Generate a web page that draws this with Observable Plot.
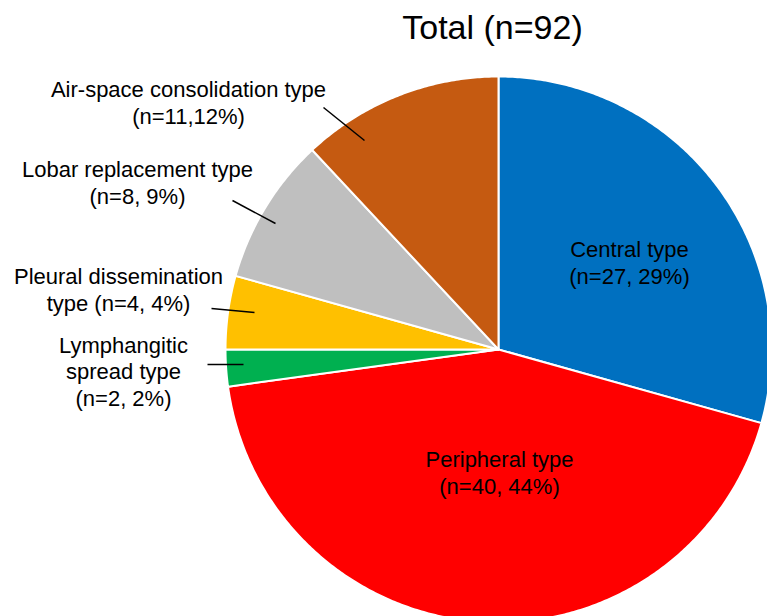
<!DOCTYPE html>
<html><head><meta charset="utf-8">
<script src="https://cdn.jsdelivr.net/npm/d3@7"></script>
<script src="https://cdn.jsdelivr.net/npm/@observablehq/plot@0.6"></script>
<style>html,body{margin:0;padding:0;background:#fff;overflow:hidden} svg{display:block}</style>
</head><body><div id="chart"></div>
<script>
// ---- data ----
const categories = ["Central type","Peripheral type","Lymphangitic spread type","Pleural dissemination type","Lobar replacement type","Air-space consolidation type"];
const counts = [27, 40, 2, 4, 8, 11];
const colors = ["#0070C0","#FF0000","#00B050","#FFC000","#BFBFBF","#C55A11"];
const labelLines = [
  ["Central type","(n=27, 29%)"],
  ["Peripheral type","(n=40, 44%)"],
  ["Lymphangitic","spread type","(n=2, 2%)"],
  ["Pleural dissemination","type (n=4, 4%)"],
  ["Lobar replacement type","(n=8, 9%)"],
  ["Air-space consolidation type","(n=11,12%)"]
];
const title = "Total (n=92)";

// ---- layout ----
const W = 767, H = 616, CX = 498, CY = 349, R = 273;
const labelPos = [[629,283],[499,493],[123,405],[118,310],[137,203],[188,123]];
const leaderPos = [null, null, [207,364,243,364], [211,308,254,312], [232,200,275,223], [323,107,364,140]];

const arcs = d3.pie().sort(null)(counts);
const pts = [];
arcs.forEach((a, i) => {
  const n = Math.max(2, Math.ceil((a.endAngle - a.startAngle) * 180 / Math.PI * 2));
  pts.push({cat: categories[i], x: CX, y: CY});
  for (let k = 0; k <= n; k++) {
    const t = a.startAngle + (a.endAngle - a.startAngle) * k / n;
    pts.push({cat: categories[i], x: CX + R * Math.sin(t), y: CY - R * Math.cos(t)});
  }
  pts.push({cat: categories[i], x: CX, y: CY});
});
const labels = labelLines.map((l, i) => ({text: l.join("\n"), x: labelPos[i][0], y: labelPos[i][1]}));
const leaders = leaderPos.map((p, i) => p && {cat: categories[i], x1: p[0], y1: p[1], x2: p[2], y2: p[3]}).filter(Boolean);

const chart = Plot.plot({
  width: W, height: H, margin: 0,
  x: {domain: [0, W], range: [0, W], axis: null},
  y: {domain: [0, H], range: [0, H], axis: null},
  color: {domain: categories, range: colors},
  style: {fontFamily: "'Liberation Sans', Arial, sans-serif", background: "white", overflow: "hidden"},
  marks: [
    Plot.line(pts, {x: "x", y: "y", z: "cat", fill: "cat", stroke: "white", strokeWidth: 2, strokeLinejoin: "round"}),
    Plot.link(leaders, {x1: "x1", y1: "y1", x2: "x2", y2: "y2", stroke: "black", strokeWidth: 1.5}),
    Plot.text(labels, {x: "x", y: "y", text: "text", lineAnchor: "bottom", lineHeight: 1.19, fontSize: 22, fill: "black"}),
    Plot.text([title], {x: () => 492, y: () => 38, text: d => d, lineAnchor: "bottom", fontSize: 34, fill: "black"})
  ]
});
document.getElementById("chart").append(chart);
</script>
</body></html>
